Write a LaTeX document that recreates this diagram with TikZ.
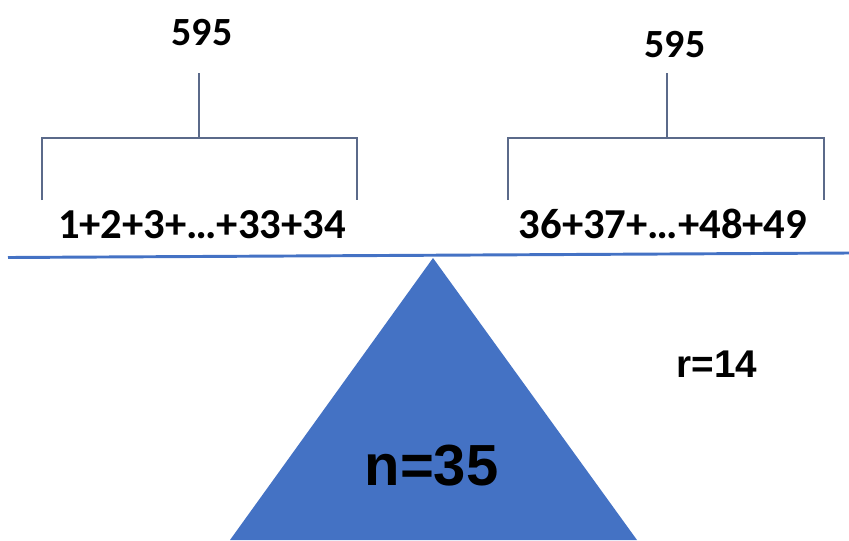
\documentclass[tikz,border=0pt]{standalone}
\usepackage{fontspec}
\setmainfont{Carlito}
\newfontfamily\arialfont{Liberation Sans}
\begin{document}
\begin{tikzpicture}[x=0.75pt,y=-0.75pt,
  sumtext/.style={anchor=base, inner sep=0pt, font=\fontsize{30}{36}\selectfont\bfseries},
  brace/.style={draw=BraceGray, line width=1.1pt},
  beam/.style={draw=BeamBlue, line width=2.2pt}]
\definecolor{BeamBlue}{HTML}{4472C4}
\definecolor{BraceGray}{HTML}{5B6A8A}
\useasboundingbox (0,0) rectangle (849,540);
% left pan
\node[sumtext] (lefttotal) at (202,45) {595};
\node[sumtext, font=\fontsize{32}{38}\selectfont\bfseries] (leftsum) at (202,238) {1+2+3+…+33+34};
\coordinate (ltop) at (199,73);
\coordinate (lmid) at (199,138);
\draw[brace] (ltop) -- (lmid);
\draw[brace] (42,200) -- (42,138) -- (357,138) -- (357,200);
% right pan
\node[sumtext] (righttotal) at (675,57) {595};
\node[sumtext, font=\fontsize{32}{38}\selectfont\bfseries] (rightsum) at (663,238) {36+37+…+48+49};
\coordinate (rtop) at (667,73);
\coordinate (rmid) at (667,138);
\draw[brace] (rtop) -- (rmid);
\draw[brace] (508,200) -- (508,138) -- (824,138) -- (824,200);
% beam and pivot
\coordinate (beamleft) at (8,257.5);
\coordinate (beamright) at (849,253);
\draw[beam] (beamleft) -- (beamright);
\coordinate (apex) at (433,258);
\fill[BeamBlue] (apex) -- (637,540) -- (230,540) -- cycle;
\node[anchor=base, inner sep=0pt, font=\fontsize{43.5}{50}\selectfont\arialfont\bfseries] (pivot) at (431.5,485) {n=35};
\node[anchor=base, inner sep=0pt, font=\fontsize{29}{34}\selectfont\arialfont\bfseries] (rest) at (717,377) {r=14};
\end{tikzpicture}
\end{document}
